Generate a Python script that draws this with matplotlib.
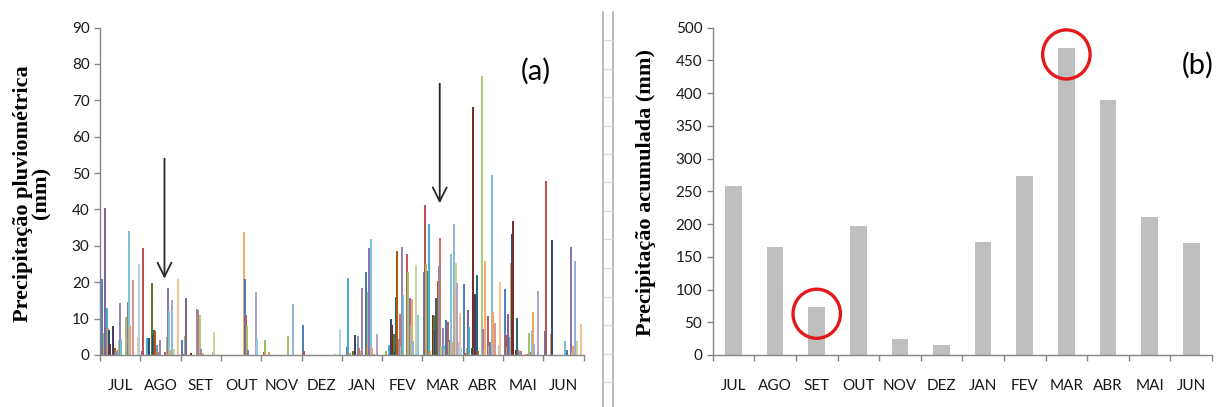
"""Daily (a) and monthly accumulated (b) rainfall, Excel-style."""

import matplotlib

matplotlib.use("Agg")
import numpy as np  # noqa: E402
from matplotlib import pyplot as plt  # noqa: E402
from matplotlib.lines import Line2D  # noqa: E402
from matplotlib.patches import Ellipse  # noqa: E402

MONTHS = ["JUL", "AGO", "SET", "OUT", "NOV", "DEZ",
          "JAN", "FEV", "MAR", "ABR", "MAI", "JUN"]

# daily rainfall (mm), one value per day of month (index 0 = day 1)
jul = [21, 2, 6, 40.5, 13, 7.5, 7, 3, 0, 8, 0.5, 2, 1, 1.5, 4, 14.3, 4.4, 0, 0, 0,
       10.4, 14.7, 34, 8, 0, 20.6, 0, 0, 0, 5, 25]
ago = [1, 29.5, 0, 0, 4.7, 0, 4.7, 0, 19.7, 5.5, 7, 6.7, 2.8, 0.8, 0, 4, 0, 0, 0, 0.8,
       5, 18.5, 12, 1.5, 15, 0, 1.6, 0, 0, 21, 0]
set_ = [4, 0.3, 5.1, 15.8, 0, 0, 0, 0.5, 0, 0, 0, 0, 12.6, 12.3, 11, 1.6, 0, 0.5, 0, 0,
        0, 0, 0, 0, 0, 0.7, 6.3, 0, 0, 0, 0]
out = [0, 0, 0, 0, 0, 0, 0, 0, 0, 0, 0, 0, 0, 0, 0, 0, 0, 33.8, 20.8, 11,
       7.9, 1.3, 0, 0, 0, 0, 0, 17.4, 4.8, 0, 0]
nov = [0, 0.9, 4, 0, 0, 0.8, 0, 0, 0, 0, 0, 0, 0, 0, 0, 0, 0, 0, 0, 0,
       5.2, 0, 0, 0, 13.9, 0, 0, 0, 0, 0, 0]
dez = [8.3, 1.1, 0, 0, 0, 0, 0, 0, 0, 0, 0, 0, 0, 0, 0, 0, 0, 0, 0, 0,
       0, 0, 0, 0, 0, 0, 0.3, 0, 0, 0, 7.1]
jan = [0, 0, 0, 2.3, 21.2, 0.5, 0, 0, 1.2, 5.5, 0, 0, 5.1, 2, 1, 18.5, 0, 0, 22.8, 2.8,
       17.2, 29.5, 31.8, 2, 0, 0.3, 0, 5.9, 0, 0, 0]
fev = [0, 0, 1.2, 0, 2.8, 0, 9.8, 8.3, 5.9, 0.7, 16, 28.7, 4.3, 11.3, 2.5, 29.8, 16.5, 0, 0, 27.9,
       22.8, 15.6, 8.3, 15.3, 3.8, 0, 24.8, 0, 11, 0, 0]
mar = [22.8, 41.3, 25.1, 23.1, 36.1, 1.1, 0, 10.9, 10.6, 7, 15.8, 20.4, 24.4, 32.1, 2.5, 7.4, 2.8, 1.5, 9.7, 9,
       3.5, 4, 27.8, 3.5, 35.9, 17.9, 25.3, 19.8, 3.5, 11.6, 2]
abr = [19.6, 0.5, 2, 12.3, 7.8, 0, 2, 68.2, 1.8, 16.9, 21.9, 1.2, 0, 0, 76.8, 7.1, 1.5, 25.9, 0, 10.6,
       2.5, 3.5, 49.6, 11.7, 3, 8.9, 0, 0, 2.8, 20, 0]
mai = [18.1, 5.4, 2.2, 11.3, 5, 25.4, 33.2, 36.8, 0, 1.5, 10.2, 1.5, 1.2, 1, 0, 0, 0, 0.3, 0, 0.4,
       6.1, 0.8, 6.9, 11.7, 3, 0, 0, 17.6, 0, 0, 0]
jun = [6.6, 47.8, 0, 0, 0, 5.8, 31.7, 0, 0, 0, 0, 0, 0, 0, 0, 0, 3.9, 0, 1.4, 0,
       0, 29.7, 0.8, 2.6, 25.9, 0, 3.9, 0, 0, 8.5, 0]

# accumulated rainfall per month (mm)
monthly_total = [258, 165, 73, 197, 25, 16, 173, 273, 469, 389, 210, 171]

HIGHLIGHT = ["SET", "MAR"]
# arrows on panel (a): (x, tip, tail) in category / mm units
ARROWS = [(1.1, 21, 54), (7.93, 41.7, 74.6)]

SERIES_COLORS = [
    "#4F81BD", "#C0504D", "#9BBB59", "#8064A2", "#4BACC6", "#F79646",
    "#2C4D75", "#772C2A", "#5F7530", "#4D3B62", "#276A7C", "#B65708",
    "#729ACA", "#CD7371", "#AFC97A", "#9983B5", "#6FBDD1", "#F9AB6B",
    "#4A78B4", "#C25A57", "#A3C266", "#8C74B0", "#7CC3D8", "#F7A25E",
    "#95B3D7", "#D99694", "#C3D69B", "#B3A2C7", "#93CDDD", "#FAC090",
    "#B9CDE5",
]

W, H = 1221, 407
AXIS_GREY = "#868686"
TEXT = "#1a1a1a"
TICK_FONT = "Lato"
LABEL_FONT = dict(family="Liberation Serif", fontweight="bold", fontsize=16,
                  color="black")


def _style_axes(ax, ymax, ystep):
    ax.set_xlim(-0.5, len(MONTHS) - 0.5)
    ax.set_ylim(0, ymax)
    ax.set_yticks(np.arange(0, ymax + 1, ystep))
    for side in ("top", "right"):
        ax.spines[side].set_visible(False)
    for side in ("left", "bottom"):
        ax.spines[side].set_color(AXIS_GREY)
        ax.spines[side].set_linewidth(1.0)
    ax.set_xticks(np.arange(len(MONTHS)))
    ax.set_xticklabels(MONTHS)
    ax.set_xticks(np.arange(len(MONTHS) + 1) - 0.5, minor=True)
    ax.tick_params(axis="x", which="major", length=0, pad=17, labelsize=11,
                   labelcolor=TEXT)
    ax.tick_params(axis="x", which="minor", length=4.5, width=1.0, color=AXIS_GREY,
                   direction="out")
    ax.tick_params(axis="y", length=4.5, width=1.0, color=AXIS_GREY, pad=3,
                   labelsize=11, labelcolor=TEXT)
    for lab in ax.get_xticklabels() + ax.get_yticklabels():
        lab.set_fontfamily(TICK_FONT)


fig = plt.figure(figsize=(W / 100, H / 100), dpi=100)
ax_a = fig.add_axes([100 / W, 52 / H, 483.6 / W, 327.4 / H])
ax_b = fig.add_axes([712.7 / W, 52 / H, 499.3 / W, 327.4 / H])

# (a) daily rainfall: 31 day-series clustered inside each month
daily = [jul, ago, set_, out, nov, dez, jan, fev, mar, abr, mai, jun]
n_days = 31
bar_w = 1.0 / (n_days + 1.5)
x = np.arange(len(MONTHS))
for day in range(n_days):
    values = [month[day] for month in daily]
    offset = -0.5 + 0.75 * bar_w + (day + 0.5) * bar_w
    ax_a.bar(x + offset, values, width=bar_w * 1.6, color=SERIES_COLORS[day],
             linewidth=0)

_style_axes(ax_a, 90, 10)
ax_a.set_ylabel("Precipitação pluviométrica\n(mm)", linespacing=0.9, **LABEL_FONT)
ax_a.yaxis.set_label_coords(-0.101, 0.494)
ax_a.text(0.902, 0.866, "(a)", transform=ax_a.transAxes, ha="center", va="center",
          fontsize=21, family=TICK_FONT, color="black")
for xa, tip, tail in ARROWS:
    ax_a.annotate("", xy=(xa, tip), xytext=(xa, tail),
                  arrowprops=dict(arrowstyle="->,head_length=0.5,head_width=0.25",
                                  color="#262626", lw=1.3, mutation_scale=20,
                                  shrinkA=0, shrinkB=0))

# (b) monthly accumulated rainfall
ax_b.bar(x, monthly_total, width=0.4, color="#BFBFBF", linewidth=0)
_style_axes(ax_b, 500, 50)
ax_b.set_ylabel("Precipitação acumulada (mm)", **LABEL_FONT)
ax_b.yaxis.set_label_coords(-0.1136, 0.496)
ax_b.text(0.972, 0.886, "(b)", transform=ax_b.transAxes, ha="center", va="center",
          fontsize=21, family=TICK_FONT, color="black")
for name in HIGHLIGHT:
    i = MONTHS.index(name)
    ax_b.add_patch(Ellipse((i, monthly_total[i] - 10), width=1.14, height=75,
                           fill=False, edgecolor="#E31A1C", linewidth=2.4))

# spreadsheet column border between the two charts
for xs in (602.7, 612.7):
    fig.add_artist(Line2D([xs / W] * 2, [0, 1 - 11.7 / H], color="#A6A6A6", lw=1.1))
for ys in np.arange(40, H, 28.5):
    fig.add_artist(Line2D([603.5 / W, 612 / W], [1 - ys / H] * 2,
                          color="#D5DAE5", lw=0.9))

fig.savefig("out.png", dpi=100)
